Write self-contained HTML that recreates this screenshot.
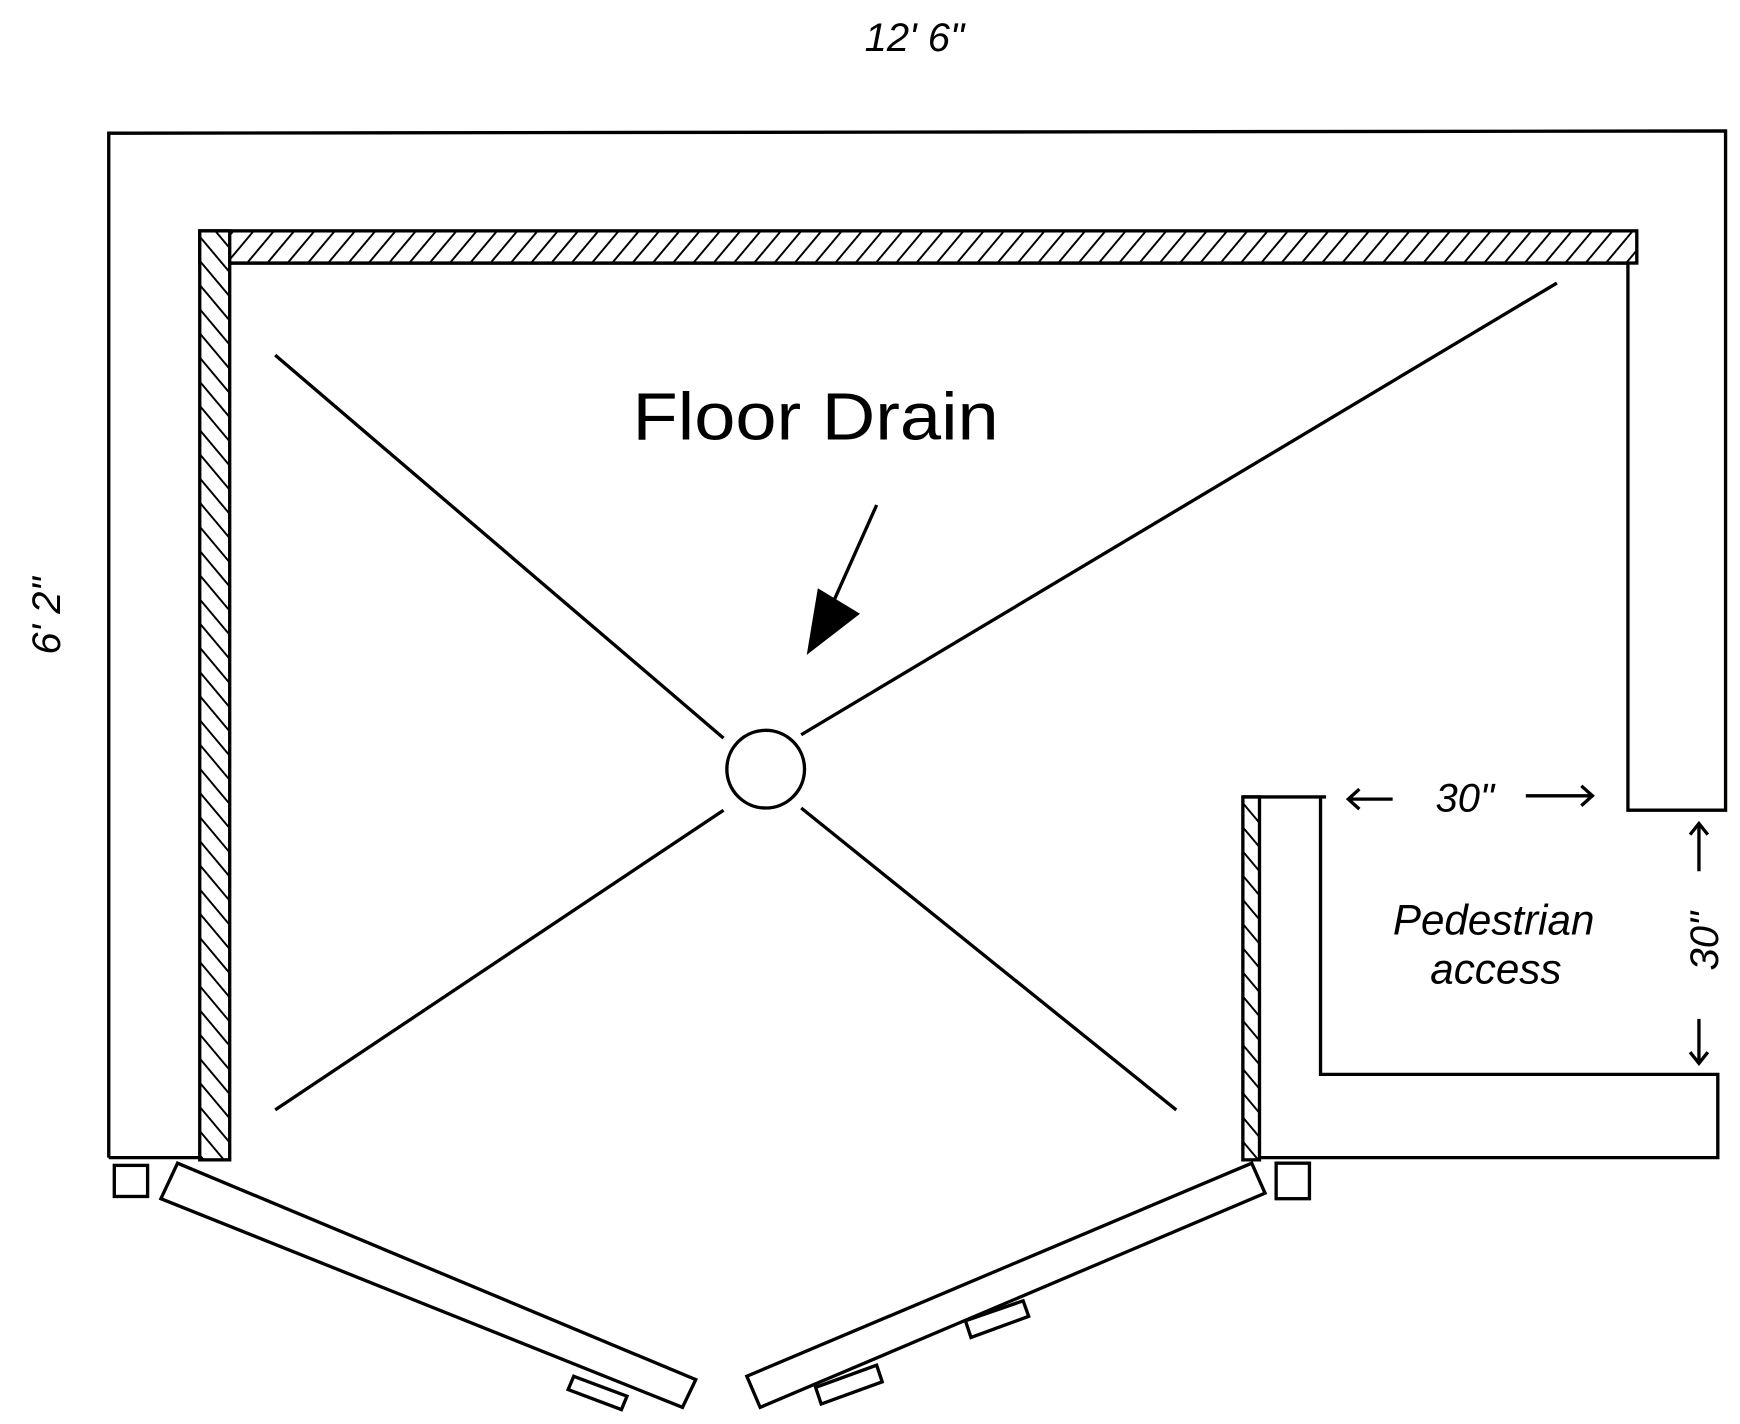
<!DOCTYPE html>
<html><head><meta charset="utf-8"><style>html,body{margin:0;padding:0;background:#fff}svg{display:block}</style></head>
<body>
<svg width="1740" height="1424" viewBox="0 0 1568 1283" preserveAspectRatio="none" xmlns="http://www.w3.org/2000/svg">
<defs>
<pattern id="h" width="14" height="14" patternUnits="userSpaceOnUse" patternTransform="rotate(40)">
<rect width="14" height="14" fill="#fff"/><line x1="0" y1="0" x2="0" y2="14" stroke="#000" stroke-width="3.5"/>
</pattern>
<pattern id="h2" width="14" height="14" patternUnits="userSpaceOnUse" patternTransform="rotate(-40)">
<rect width="14" height="14" fill="#fff"/><line x1="0" y1="0" x2="0" y2="14" stroke="#000" stroke-width="3.5"/>
</pattern>
</defs>
<g fill="none" stroke="#000" stroke-width="3">
<polyline points="98,1043 98,120 1555,118 1555,730 1467,730 1467,237 207,237"/>
<rect x="180" y="208" width="1295" height="29" fill="url(#h)"/>
<rect x="180" y="208" width="27" height="837" fill="url(#h2)"/>
<line x1="98" y1="1043" x2="180" y2="1043"/>
<rect x="1120" y="718" width="15" height="327" fill="url(#h2)"/>
<polyline points="1120,718 1195,718"/>
<polyline points="1190,718 1190,968 1548,968 1548,1043 1135,1043"/>
<line x1="248" y1="320" x2="652" y2="665"/>
<line x1="722" y1="662" x2="1403" y2="255"/>
<line x1="248" y1="1000" x2="652" y2="730"/>
<line x1="722" y1="728" x2="1060" y2="1000"/>
<circle cx="690" cy="693" r="35"/>
<line x1="790" y1="455" x2="752" y2="540"/>
<polygon points="160,1048 145,1080 615,1268 627,1243" fill="#fff"/>
<rect x="103" y="1050" width="30" height="28"/>
<polygon points="517,1240 565,1258 560,1270 512,1252" fill="#fff"/>
<polygon points="1128,1048 1140,1075 685,1268 673,1240" fill="#fff"/>
<rect x="1150" y="1048" width="30" height="32"/>
<polygon points="735,1250 790,1230 795,1245 740,1265" fill="#fff"/>
<polygon points="870,1190 922,1172 927,1186 875,1205" fill="#fff"/>
<line x1="1215" y1="720" x2="1255" y2="720"/>
<polyline points="1225,711 1215,720 1225,729"/>
<line x1="1375" y1="717" x2="1435" y2="717"/>
<polyline points="1425,708 1435,717 1425,726"/>
<line x1="1531" y1="742" x2="1531" y2="785"/>
<polyline points="1523,752 1531,742 1539,752"/>
<line x1="1531" y1="918" x2="1531" y2="958"/>
<polyline points="1523,948 1531,958 1539,948"/>
</g>
<polygon points="727,590 737,530 775,553" fill="#000"/>
<g font-family="Liberation Sans, sans-serif" fill="#000">
<text x="570" y="396" font-size="60" textLength="330" lengthAdjust="spacingAndGlyphs">Floor Drain</text>
<text x="824" y="46" font-size="36" font-style="italic" text-anchor="middle">12' 6"</text>
<text transform="translate(54,555) rotate(-90)" font-size="36" font-style="italic" text-anchor="middle">6' 2"</text>
<text x="1320" y="731" font-size="36" font-style="italic" text-anchor="middle">30"</text>
<text transform="translate(1548,848) rotate(-90)" font-size="36" font-style="italic" text-anchor="middle">30"</text>
<text x="1346" y="842" font-size="38" font-style="italic" text-anchor="middle">Pedestrian</text>
<text x="1348" y="886" font-size="38" font-style="italic" text-anchor="middle">access</text>
</g>
</svg>
</body></html>
